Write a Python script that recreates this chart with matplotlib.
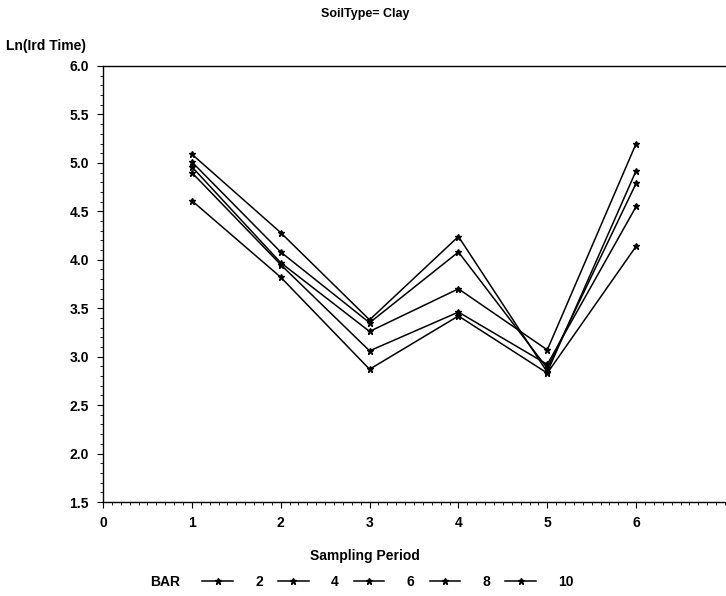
import numpy as np
import matplotlib.pyplot as plt
from matplotlib.ticker import MultipleLocator

plt.rcParams['font.family'] = ['Liberation Sans', 'DejaVu Sans']

# sampling periods and Ln(Ird Time) per BAR level
period = [1, 2, 3, 4, 5, 6]
bar_levels = ['2', '4', '6', '8', '10']
bar2 = [5.09, 4.28, 3.38, 4.24, 2.84, 4.92]
bar4 = [5.01, 4.08, 3.35, 4.08, 2.88, 4.79]
bar6 = [4.96, 3.97, 3.26, 3.70, 3.07, 5.20]
bar8 = [4.90, 3.95, 3.06, 3.46, 2.92, 4.55]
bar10 = [4.61, 3.82, 2.87, 3.42, 2.83, 4.14]
series = [bar2, bar4, bar6, bar8, bar10]

fig = plt.figure(figsize=(7.26, 5.96), dpi=100)
ax = fig.add_axes([103/726, 94/596, 622/726, 436/596])

for lvl, vals in zip(bar_levels, series):
    ax.plot(period, vals, color='black', lw=1.1, marker='*', ms=5, label=lvl)

ax.set_xlim(0, 7)
ax.set_ylim(1.5, 6.0)
ax.set_xticks([0, 1, 2, 3, 4, 5, 6])
ax.set_yticks(np.arange(1.5, 6.01, 0.5))
ax.set_yticklabels(['%.1f' % v for v in np.arange(1.5, 6.01, 0.5)])
ax.xaxis.set_minor_locator(MultipleLocator(0.1))
ax.yaxis.set_minor_locator(MultipleLocator(0.1))
ax.tick_params(which='major', direction='out', length=4, labelsize=10, pad=6)
ax.tick_params(which='minor', direction='out', length=2)
for lab in ax.get_xticklabels() + ax.get_yticklabels():
    lab.set_fontweight('bold')
for s in ax.spines.values():
    s.set_linewidth(1.0)
ax.spines['right'].set_visible(False)

fig.text(365/726, 1 - 14/596, 'SoilType= Clay', ha='center', va='center',
         fontsize=9, fontweight='bold')
fig.text(6/726, 1 - 46/596, 'Ln(Ird Time)', ha='left', va='center',
         fontsize=10, fontweight='bold')
fig.text(365/726, 1 - 556/596, 'Sampling Period', ha='center', va='center',
         fontsize=10, fontweight='bold')
fig.text(150/726, 1 - 582/596, 'BAR', ha='left', va='center',
         fontsize=10, fontweight='bold')

leg = fig.legend(loc='center', bbox_to_anchor=(388/726, 1 - 582/596), ncol=5,
                 frameon=False, handlelength=2.2, columnspacing=1.1,
                 handletextpad=1.6, prop={'size': 10, 'weight': 'bold'})

fig.savefig('out.png', dpi=100)
